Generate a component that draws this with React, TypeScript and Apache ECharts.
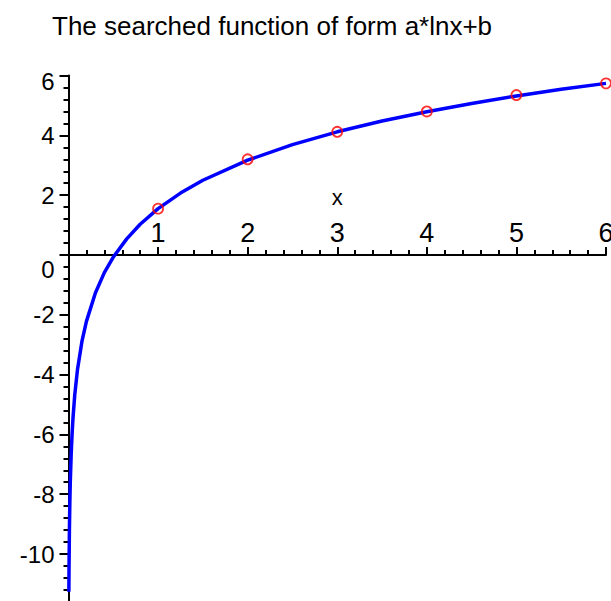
import React, { useEffect, useRef } from "react";
import * as echarts from "echarts";

const titleText = "The searched function of form a*lnx+b";
const pointX = [1, 2, 3, 4, 5, 6];
const pointY = [1.55, 3.2, 4.12, 4.8, 5.35, 5.74];
const curveX = [0.0042, 0.006, 0.01, 0.015, 0.02, 0.03, 0.04, 0.05, 0.07, 0.1, 0.15, 0.2, 0.3, 0.4, 0.5, 0.65, 0.8, 1, 1.25, 1.5, 2, 2.5, 3, 3.5, 4, 4.5, 5, 5.5, 6];
const curveY = [-11.26, -10.42, -9.23, -8.28, -7.6, -6.66, -5.98, -5.46, -4.67, -3.84, -2.89, -2.22, -1.27, -0.59, -0.07, 0.54, 1.03, 1.55, 2.07, 2.5, 3.17, 3.69, 4.12, 4.48, 4.79, 5.07, 5.32, 5.54, 5.74];
const xTicks = { min: 0, max: 6, step: 1 };
const yTicks = { min: -12, max: 6, step: 2 };

const FONT = "'Liberation Sans', Arial, sans-serif";

const GRID_TOP = 75.6;
const GRID_H = 538.2;
// x axis sits where y = 0
const X_AXIS_OFFSET = -(GRID_H * (0 - yTicks.min)) / (yTicks.max - yTicks.min);

export default function App() {
  const ref = useRef<HTMLDivElement>(null);
  useEffect(() => {
    if (!ref.current) return;
    const chart = echarts.init(ref.current, undefined, { renderer: "svg" });
    chart.setOption({
      animation: false,
      backgroundColor: "#ffffff",
      title: {
        text: titleText,
        left: 47,
        top: 8,
        textStyle: { fontFamily: FONT, fontSize: 26, fontWeight: "normal", color: "#000" },
      },
      grid: {
        left: 68.5,
        right: 5,
        top: GRID_TOP,
        height: GRID_H,
        outerBoundsMode: "none",
        containLabel: false,
      },
      xAxis: {
        type: "value",
        position: "bottom",
        offset: X_AXIS_OFFSET,
        min: xTicks.min,
        max: xTicks.max,
        interval: xTicks.step,
        name: "x",
        nameLocation: "middle",
        nameGap: -58,
        nameTextStyle: { fontFamily: FONT, fontSize: 22, color: "#000", verticalAlign: "middle" },
        axisLine: { onZero: false, lineStyle: { color: "#000", width: 2 } },
        axisTick: { show: true, inside: true, length: 8, lineStyle: { color: "#000", width: 2 } },
        minorTick: { show: true, splitNumber: 5, length: 5, lineStyle: { color: "#000", width: 2 } },
        axisLabel: {
          inside: true,
          margin: 9,
          showMinLabel: false,
          fontFamily: FONT,
          fontSize: 27,
          color: "#000",
          formatter: (v: number) => (v === 0 ? "" : String(v)),
        },
        splitLine: { show: false },
      },
      yAxis: {
        type: "value",
        min: yTicks.min,
        max: yTicks.max,
        interval: yTicks.step,
        axisLine: { show: true, onZero: false, lineStyle: { color: "#000", width: 2 } },
        axisTick: { show: true, length: 9, lineStyle: { color: "#000", width: 2 } },
        minorTick: { show: true, splitNumber: 5, length: 5, lineStyle: { color: "#000", width: 2 } },
        axisLabel: {
          margin: 14,
          fontFamily: FONT,
          fontSize: 24,
          color: "#000",
          formatter: (v: number) => {
            if (v === yTicks.min) return "";
            if (v === 0) return "{zero|0}";
            if (v === yTicks.max) return "{top|" + v + "}";
            return String(v);
          },
          rich: {
            zero: { fontFamily: FONT, fontSize: 24, color: "#000", padding: [28, 0, 0, 0] },
            top: { fontFamily: FONT, fontSize: 24, color: "#000", padding: [12, 0, 0, 0] },
          },
        },
        splitLine: { show: false },
      },
      series: [
        {
          type: "line",
          data: curveX.map((x, i) => [x, curveY[i]]),
          showSymbol: false,
          smooth: false,
          lineStyle: { color: "#0000ff", width: 3.5 },
          z: 2,
        },
        {
          type: "scatter",
          data: pointX.map((x, i) => [x, pointY[i]]),
          symbol: "circle",
          symbolSize: 10,
          itemStyle: { color: "rgba(0,0,0,0)", borderColor: "#ff0000", borderWidth: 1.8 },
          z: 3,
        },
      ],
    });
    return () => chart.dispose();
  }, []);
  return (
    <div
      ref={ref}
      style={{ position: "fixed", left: 0, top: 0, width: 611, height: 601, background: "#fff" }}
    />
  );
}
